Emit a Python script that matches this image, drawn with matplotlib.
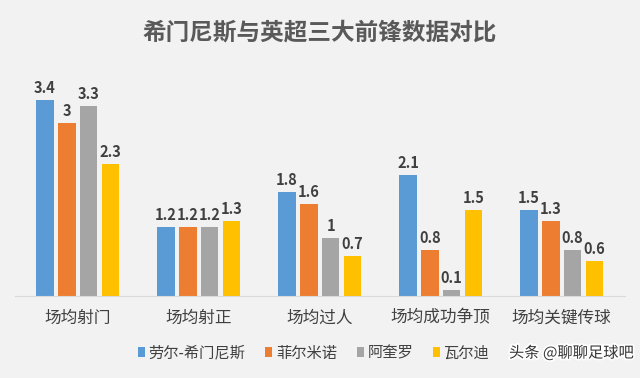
import numpy as np
import matplotlib.pyplot as plt
import matplotlib.patheffects as pe

plt.rcParams['font.family'] = ['Noto Sans CJK SC', 'DejaVu Sans']

categories = ['场均射门', '场均射正', '场均过人', '场均成功争顶', '场均关键传球']
players = ['劳尔-希门尼斯', '菲尔米诺', '阿奎罗', '瓦尔迪']
hernandez = [3.4, 1.2, 1.8, 2.1, 1.5]
firmino = [3, 1.2, 1.6, 0.8, 1.3]
aguero = [3.3, 1.2, 1, 0.1, 0.8]
vardy = [2.3, 1.3, 0.7, 1.5, 0.6]
series = [hernandez, firmino, aguero, vardy]
colors = ['#5B9BD5', '#ED7D31', '#A5A5A5', '#FFC000']

bg = '#F2F2F2'
fig = plt.figure(figsize=(6.4, 3.78), dpi=100, facecolor=bg)
ax = fig.add_axes([0.023, 0.217, 0.953, 0.571], facecolor=bg)

x = np.arange(len(categories))
w = 0.145
offs = [-1.5, -0.5, 0.5, 1.5]
for vals, c, o, name in zip(series, colors, offs, players):
    bars = ax.bar(x + o * 0.18, vals, w, color=c, label=name)
    for b, v in zip(bars, vals):
        ax.text(b.get_x() + b.get_width() / 2, v + 0.07, f'{v:g}',
                ha='center', va='bottom', fontsize=10.5, color='#404040',
                fontweight='bold')

ax.set_xlim(-0.52, len(categories) - 0.48)
ax.set_ylim(0, 3.75)
ax.set_yticks([])
ax.set_xticks(x)
ax.set_xticklabels(categories, fontsize=12, color='#404040')
ax.tick_params(axis='x', length=0, pad=10)
for s in ['top', 'right', 'left']:
    ax.spines[s].set_visible(False)
ax.spines['bottom'].set_color('#D9D9D9')

fig.text(0.5, 0.915, '希门尼斯与英超三大前锋数据对比', ha='center', va='center',
         fontsize=17, fontweight='bold', color='#595959')

fig.legend(loc='center', bbox_to_anchor=(0.49, 0.066), ncol=4, frameon=False,
           fontsize=11, handlelength=0.45, handleheight=0.6,
           handletextpad=0.25, columnspacing=1.3, labelcolor='#404040')

fig.text(0.99, 0.066, '头条 @聊聊足球吧', ha='right', va='center', fontsize=11,
         color='#333333',
         path_effects=[pe.withStroke(linewidth=2.5, foreground='white')])

fig.savefig('out.png', dpi=100, facecolor=bg)
